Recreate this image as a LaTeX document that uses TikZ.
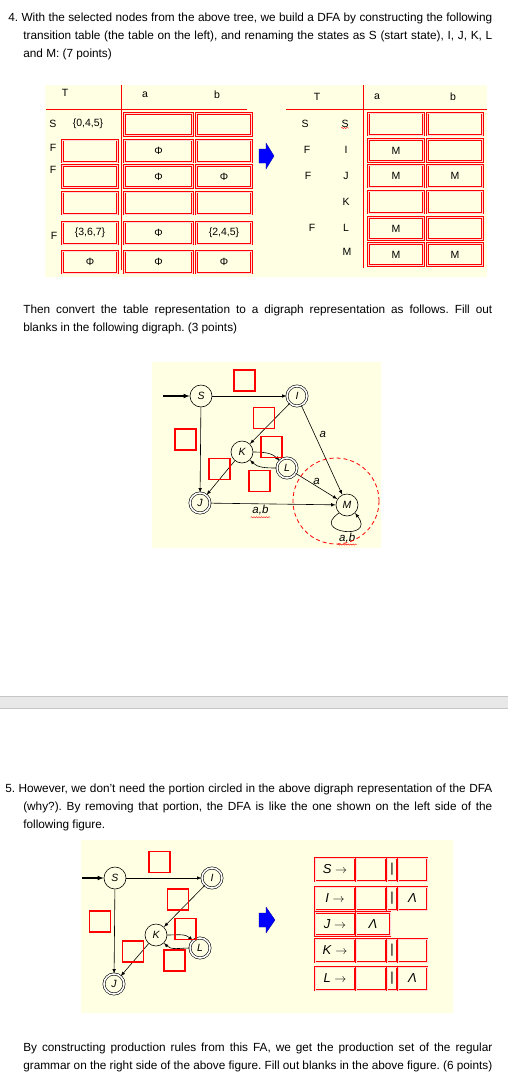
\documentclass[tikz,border=0pt]{standalone}
\usepackage{fontspec}
\setmainfont{Liberation Sans}
\usetikzlibrary{positioning, shapes, arrows, decorations.pathmorphing}
\definecolor{pale}{HTML}{FFFFE3}
\frenchspacing

\begin{document}
\begin{tikzpicture}[x=1pt, y=1pt, >=latex,
  txt/.style={anchor=base west, inner sep=0pt, align=justify, font=\fontsize{11.8}{18}\selectfont},
  lbl/.style={inner sep=0pt, font=\fontsize{10.5}{12}\selectfont},
  cell/.style={draw=red, double=red!15, double distance=0.5pt, line width=0.8pt, minimum height=22pt, inner sep=0pt, font=\fontsize{10.5}{12}\selectfont},
  gcell/.style={cell, minimum height=23pt, font=\fontsize{13}{15}\selectfont},
  hole/.style={draw=red, line width=1.8pt, minimum size=21pt, inner sep=0pt},
  vtx/.style={circle, draw, line width=0.6pt, minimum size=22pt, inner sep=0pt, font=\fontsize{10.5}{12}\selectfont\itshape},
  fin/.style={vtx, double, double distance=1.6pt, minimum size=20pt},
  elbl/.style={inner sep=1.5pt, font=\fontsize{11.5}{12}\selectfont\itshape},
  squig/.style={red, line width=0.4pt, yshift=-1.5pt, decorate, decoration={snake, amplitude=0.6pt, segment length=2.5pt}},
  every path/.append style={line width=0.6pt}]
\useasboundingbox (0,0) rectangle (508,-1082);
\fill[white] (0,0) rectangle (508,-1082);

% question 4
\node[txt, text width=469pt] (p1) at (23,-21) {\hspace*{-15pt}4. With the selected nodes from the above tree, we build a DFA by constructing the following\linebreak transition table (the table on the left), and renaming the states as S (start state), I, J, K, L\linebreak and M: (7 points)};

% transition tables
\fill[pale] (45,-85) rectangle (487,-277);
\node[lbl] (hT1) at (65,-93) {T};
\node[lbl] (ha1) at (145,-95) {a};
\node[lbl] (hb1) at (217,-95) {b};
\draw[red, line width=0.8pt] (121,-85) -- (121,-270);
\draw[red, line width=0.8pt] (46,-109) -- (247,-109);
\node[lbl] (rS) at (53,-124) {S};
\node[lbl] (r045) at (88,-124) {\{0,4,5\}};
\node[lbl] (rF2) at (53,-148) {F};
\node[lbl] (rF3) at (53,-170) {F};
\node[lbl] (rF5) at (54,-236) {F};
\foreach \y/\t [count=\i] in {151/{}, 176.5/{}, 203/{}, 233/{\{3,6,7\}}, 262/Φ}
  \node[cell, minimum width=55pt] (lT\i) at (90,-\y) {\t};
\foreach \y/\t [count=\i] in {124.5/{}, 151/Φ, 176.5/Φ, 203/{}, 233/Φ, 262/Φ}
  \node[cell, minimum width=68pt] (la\i) at (158.5,-\y) {\t};
\foreach \y/\t [count=\i] in {124.5/{}, 151/{}, 176.5/Φ, 203/{}, 233/{\{2,4,5\}}, 262/Φ}
  \node[cell, minimum width=55pt] (lb\i) at (224,-\y) {\t};

\filldraw[fill=blue, draw=blue!60!black, line width=0.3pt] (259,-149) -- (266,-149) -- (266,-143) -- (274,-156) -- (266,-169) -- (266,-163) -- (259,-163) -- cycle;

\node[lbl] (hT2) at (317,-97) {T};
\node[lbl] (ha2) at (377,-97) {a};
\node[lbl] (hb2) at (453,-97) {b};
\draw[red, line width=0.8pt] (363,-85) -- (363,-268);
\draw[red, line width=0.8pt] (286,-109) -- (487,-109);
\node[lbl] (sS) at (305,-124) {S};
\node[lbl] (sF2) at (307,-150) {F};
\node[lbl] (sF3) at (308,-176) {F};
\node[lbl] (sF5) at (312,-228) {F};
\node[lbl] (nS) at (345,-124) {S};
\node[lbl] (nI) at (346,-150) {I};
\node[lbl] (nJ) at (346,-176) {J};
\node[lbl] (nK) at (346,-202) {K};
\node[lbl] (nL) at (346,-228) {L};
\node[lbl] (nM) at (347,-252) {M};
\draw[squig] (nS.south west) -- (nS.south east);
\foreach \y/\t [count=\i] in {124/{}, 150.5/M, 176/M, 202/{}, 228.5/M, 254.5/M}
  \node[cell, minimum width=55pt] (ra\i) at (396,-\y) {\t};
\foreach \y/\t [count=\i] in {124/{}, 150.5/{}, 176/M, 202/{}, 228.5/{}, 254.5/M}
  \node[cell, minimum width=55pt] (rb\i) at (455,-\y) {\t};

\node[txt, text width=469pt] (p2) at (23,-313) {Then convert the table representation to a digraph representation as follows. Fill out\linebreak blanks in the following digraph. (3 points)};

% digraph
\fill[pale] (152,-362) rectangle (381,-548);
\node[vtx] (S) at (201,-396) {S};
\node[fin] (I) at (297,-396) {I};
\node[vtx] (K) at (242,-452) {K};
\node[fin] (L) at (287,-468) {L};
\node[fin] (J) at (200,-503) {J};
\node[vtx] (M) at (347,-505) {M};
\coordinate (in1) at (163,-396);
\draw[->, line width=1.1pt] (in1) -- (S);
\draw[->] (S) -- (I);
\draw[->] (S) -- (J);
\draw[->] (I) -- (K);
\draw[->] (I) -- node[elbl, pos=0.33, right=3pt] (la) {a} (M);
\draw[->] (K) to[out=0, in=135] (L);
\draw[->] (L) to[out=180, in=-45] (K);
\draw[->] (K) -- (J);
\draw[->] (L) -- node[elbl, above] (lla) {a} (M);
\draw[->] (J) -- node[elbl, below, pos=0.4] (jab) {a,b} (M);
\draw[->] (M.225) .. controls +(-30,-20) and +(22,-28) .. node[elbl, below, pos=0.55] (mab) {a,b} (M.315);
\draw[squig] (jab.south west) -- (jab.south east);
\draw[squig] (mab.south west) -- (mab.south east);
\draw[red, dash pattern=on 4pt off 3pt, line width=0.8pt] (336,-501) circle (43pt);
\foreach \x/\y [count=\i] in {244.5/380.5, 264/418, 185.5/439.5, 271.5/447, 219.5/469, 259.5/481}
  \node[hole] (h\i) at (\x,-\y) {};

% page break
\fill[gray!18] (0,-696) rectangle (508,-708);
\draw[gray!45] (0,-696) -- (508,-696) (0,-708) -- (508,-708);

% question 5
\node[txt, text width=469pt] (p3) at (23,-792) {\hspace*{-18pt}5. However, we don’t need the portion circled in the above digraph representation of the DFA\linebreak (why?). By removing that portion, the DFA is like the one shown on the left side of the\linebreak following figure.};

\fill[pale] (81,-840) rectangle (453,-1013);
\node[vtx] (S2) at (115,-878) {S};
\node[fin] (I2) at (212,-878) {I};
\node[vtx] (K2) at (156,-935) {K};
\node[fin] (L2) at (200,-948) {L};
\node[fin] (J2) at (114,-984) {J};
\coordinate (in2) at (82,-878);
\draw[->, line width=1.1pt] (in2) -- (S2);
\draw[->] (S2) -- (I2);
\draw[->] (S2) -- (J2);
\draw[->] (I2) -- (K2);
\draw[->] (K2) to[out=0, in=135] (L2);
\draw[->] (L2) to[out=180, in=-45] (K2);
\draw[->] (K2) -- (J2);
\foreach \x/\y [count=\i] in {159.5/862, 178/899.5, 100/921.5, 185.5/929, 133/951.5, 174.5/960.5}
  \node[hole] (k\i) at (\x,-\y) {};

\filldraw[fill=blue, draw=blue!60!black, line width=0.3pt] (259,-913) -- (266,-913) -- (266,-907) -- (275,-920) -- (266,-933) -- (266,-927) -- (259,-927) -- cycle;

% grammar
\foreach \y/\s/\e [count=\i] in {869.5/S/{}, 898.5/I/Λ, 950.5/K/{}, 978.5/L/Λ} {
  \node[gcell, minimum width=40pt] (g\i) at (335,-\y) {\textit{\s} $\rightarrow$};
  \node[gcell, minimum width=30pt] (gm\i) at (371,-\y) {};
  \node[gcell, minimum width=10pt] (gb\i) at (392,-\y) {|};
  \node[gcell, minimum width=29pt] (ge\i) at (412.5,-\y) {\textit{\e}};
}
\node[gcell, minimum width=40pt] (gJ) at (335,-924) {\textit{J} $\rightarrow$};
\node[gcell, minimum width=34pt] (gJe) at (373,-924) {\textit{Λ}};

\node[txt, text width=469pt] (p4) at (23,-1051) {By constructing production rules from this FA, we get the production set of the regular\linebreak grammar on the right side of the above figure. Fill out blanks in the above figure. (6 points)};
\end{tikzpicture}
\end{document}
